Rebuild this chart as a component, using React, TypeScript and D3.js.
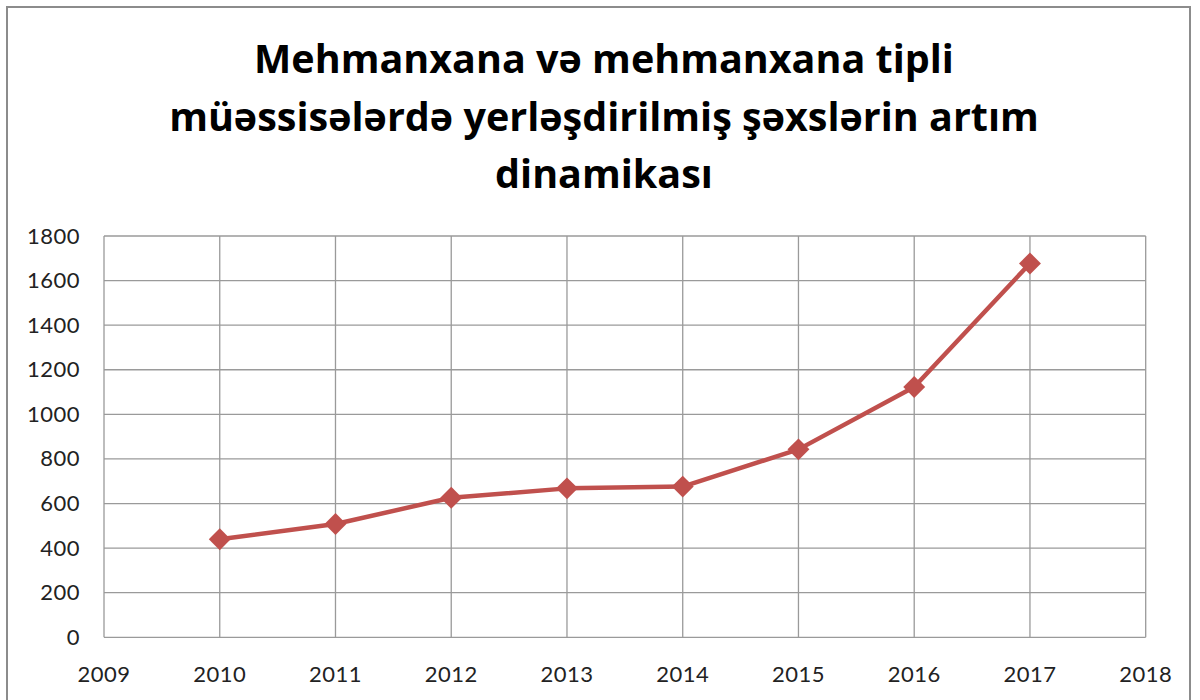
import React from "react";
import * as d3 from "d3";

const titleLines = [
  "Mehmanxana və mehmanxana tipli",
  "müəssisələrdə yerləşdirilmiş şəxslərin artım",
  "dinamikası",
];
const years = [2010, 2011, 2012, 2013, 2014, 2015, 2016, 2017];
const values = [440, 508, 626, 668, 676, 843, 1123, 1677];
const xTicks = [2009, 2010, 2011, 2012, 2013, 2014, 2015, 2016, 2017, 2018];
const yTicks = [0, 200, 400, 600, 800, 1000, 1200, 1400, 1600, 1800];

export default function App() {
  const W = 1200, H = 700;
  const left = 104, right = 1145.7, top = 236, bottom = 637.3;
  const x = d3.scaleLinear().domain([2009, 2018]).range([left, right]);
  const y = d3.scaleLinear().domain([0, 1800]).range([bottom, top]);
  const line = d3.line<number>().x((_, i) => x(years[i])).y((v) => y(v));
  const sym = d3.symbol().type(d3.symbolSquare).size(240)();
  const titleFont = "'Open Sans', Lato, sans-serif";
  const font = "Lato, 'Open Sans', sans-serif";
  return (
    <svg width={W} height={H} style={{ position: "absolute", left: 0, top: 0 }}>
      <rect x={0} y={0} width={W} height={H} fill="#fff" />
      <rect x={7} y={7} width={1183} height={700} fill="#fff" stroke="#8c8c8c" strokeWidth={2} />
      {titleLines.map((t, i) => (
        <text key={i} x={604} y={73 + i * 57.5} textAnchor="middle" fontFamily={titleFont} fontWeight="bold" fontSize={39.5} fill="#000">
          {t}
        </text>
      ))}
      {yTicks.map((v) => (
        <line key={"h" + v} x1={left} x2={right} y1={y(v)} y2={y(v)} stroke="#9a9a9a" strokeWidth={1.3} />
      ))}
      {xTicks.map((v) => (
        <line key={"v" + v} x1={x(v)} x2={x(v)} y1={top} y2={bottom} stroke="#9a9a9a" strokeWidth={1.3} />
      ))}
      {yTicks.map((v) => (
        <text key={"yl" + v} x={80} y={y(v) + 7.5} textAnchor="end" fontFamily={font} fontSize={22} letterSpacing={0.5} fill="#222">
          {v}
        </text>
      ))}
      {xTicks.map((v) => (
        <text key={"xl" + v} x={x(v)} y={682} textAnchor="middle" fontFamily={font} fontSize={22} letterSpacing={0.5} fill="#222">
          {v}
        </text>
      ))}
      <path d={line(values) || ""} fill="none" stroke="#C0504D" strokeWidth={4.5} strokeLinejoin="round" />
      {values.map((v, i) => (
        <path key={"m" + i} d={sym || ""} transform={`translate(${x(years[i])},${y(v)}) rotate(45)`} fill="#C0504D" />
      ))}
    </svg>
  );
}
